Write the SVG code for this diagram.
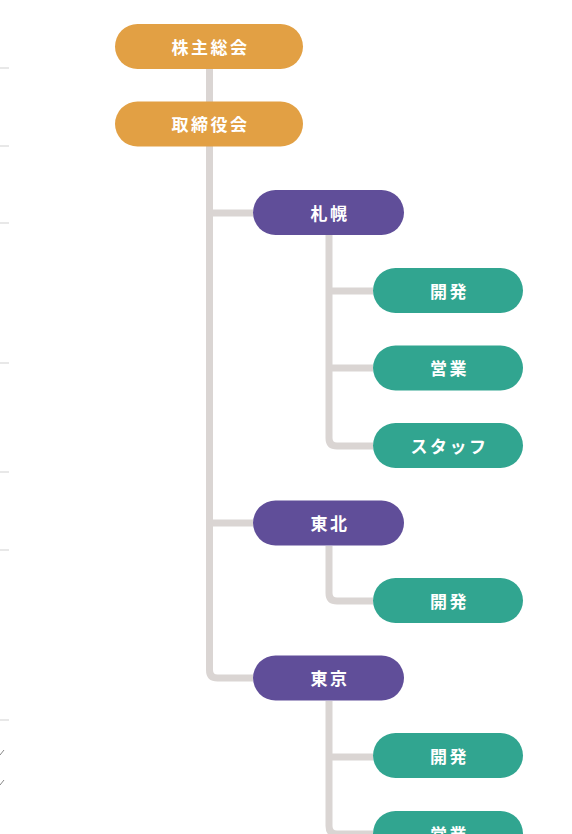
<svg xmlns="http://www.w3.org/2000/svg" width="572" height="834" viewBox="0 0 572 834">
<style>
.orange{fill:#E2A044}
.purple{fill:#604E99}
.green{fill:#31A590}
.lbl{fill:#FFFFFF;font-family:"Noto Sans CJK JP","Noto Sans",sans-serif;font-weight:700;font-size:17px;letter-spacing:2.5px;text-anchor:middle;dominant-baseline:central}
.conn{fill:none;stroke:#DAD5D3;stroke-width:7;stroke-linejoin:round}
.edge{stroke:#D9D9D9;stroke-width:1.2}
.tick{stroke:#888888;stroke-width:1}
</style>
<rect width="572" height="834" fill="#FFFFFF"/>
<g id="edge-marks">
<line class="edge" x1="0" y1="68" x2="9" y2="68"/>
<line class="edge" x1="0" y1="146" x2="9" y2="146"/>
<line class="edge" x1="0" y1="223" x2="9" y2="223"/>
<line class="edge" x1="0" y1="363" x2="9" y2="363"/>
<line class="edge" x1="0" y1="472" x2="9" y2="472"/>
<line class="edge" x1="0" y1="550" x2="9" y2="550"/>
<line class="edge" x1="0" y1="720" x2="9" y2="720"/>
<line class="tick" x1="0" y1="755" x2="4" y2="750"/>
<line class="tick" x1="0" y1="785" x2="4" y2="780"/>
</g>
<g id="connectors">
<path class="conn" d="M209.5 69 V102"/>
<path class="conn" d="M209.5 146 V670 Q209.5 678 217.5 678 H253"/>
<path class="conn" d="M209.5 213 H253"/>
<path class="conn" d="M209.5 523 H253"/>
<path class="conn" d="M329 235 V438 Q329 446 337 446 H373"/>
<path class="conn" d="M329 291 H373"/>
<path class="conn" d="M329 368 H373"/>
<path class="conn" d="M329 546 V593 Q329 601 337 601 H373"/>
<path class="conn" d="M329 701 V826 Q329 834 337 834 H373"/>
<path class="conn" d="M329 757 H373"/>
</g>
<g id="n-kabunushi"><rect class="orange" x="115" y="24" width="188" height="45" rx="22.5"/><text class="lbl" x="210.5" y="46">株主総会</text></g>
<g id="n-torishimariyaku"><rect class="orange" x="115" y="101.5" width="188" height="45" rx="22.5"/><text class="lbl" x="210.5" y="123.5">取締役会</text></g>
<g id="n-sapporo"><rect class="purple" x="253" y="190" width="151" height="45" rx="22.5"/><text class="lbl" x="330" y="212">札幌</text></g>
<g id="n-sapporo-kaihatsu"><rect class="green" x="373" y="268" width="150" height="45" rx="22.5"/><text class="lbl" x="449.5" y="290">開発</text></g>
<g id="n-sapporo-eigyo"><rect class="green" x="373" y="345.5" width="150" height="45" rx="22.5"/><text class="lbl" x="449.5" y="367.5">営業</text></g>
<g id="n-sapporo-staff"><rect class="green" x="373" y="423" width="150" height="45" rx="22.5"/><text class="lbl" x="449.5" y="445">スタッフ</text></g>
<g id="n-tohoku"><rect class="purple" x="253" y="500.5" width="151" height="45" rx="22.5"/><text class="lbl" x="330" y="522.5">東北</text></g>
<g id="n-tohoku-kaihatsu"><rect class="green" x="373" y="578" width="150" height="45" rx="22.5"/><text class="lbl" x="449.5" y="600">開発</text></g>
<g id="n-tokyo"><rect class="purple" x="253" y="655.5" width="151" height="45" rx="22.5"/><text class="lbl" x="330" y="677.5">東京</text></g>
<g id="n-tokyo-kaihatsu"><rect class="green" x="373" y="733" width="150" height="45" rx="22.5"/><text class="lbl" x="449.5" y="755">開発</text></g>
<g id="n-tokyo-eigyo"><rect class="green" x="373" y="811" width="150" height="45" rx="22.5"/><text class="lbl" x="449.5" y="833">営業</text></g>
</svg>
